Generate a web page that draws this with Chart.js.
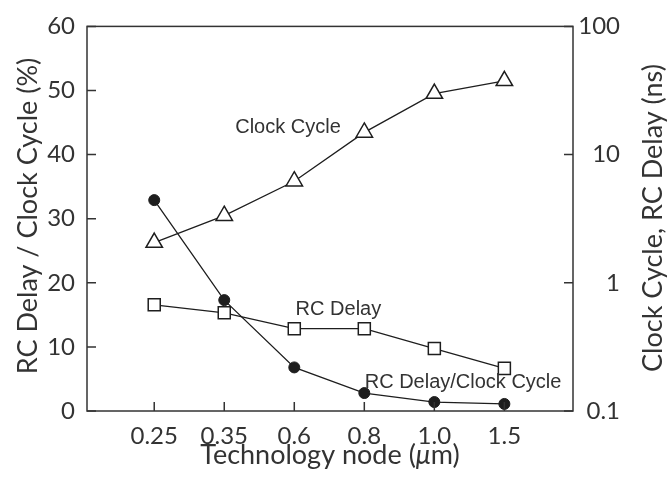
<!DOCTYPE html>
<html>
<head>
<meta charset="utf-8">
<script src="https://cdn.jsdelivr.net/npm/chart.js@4"></script>
<style>
  html, body { margin: 0; padding: 0; background: #fff; }
  #wrap { width: 668px; height: 480px; }
</style>
</head>
<body>
<div id="wrap"><canvas id="c"></canvas></div>
<script>
// technology nodes (um) along the bottom
var nodes = ['0.25', '0.35', '0.6', '0.8', '1.0', '1.5'];
// RC delay as share of the clock cycle, % (left axis)
var ratioPct = [32.9, 17.3, 6.8, 2.8, 1.4, 1.1];
// clock cycle and RC delay, ns (right log axis)
var clockCycle = [2.06, 3.34, 6.2, 14.9, 29.9, 37.6];
var rcDelay = [0.673, 0.583, 0.439, 0.439, 0.307, 0.215];
var leftTicks = [0, 10, 20, 30, 40, 50, 60];
var rightTicks = [0.1, 1, 10, 100];

var INK = '#1e1e1e';
var TEXT = '#333333';
var tickFont = { family: 'Lato', size: 24 };
var TITLE_FONT = '27px Lato, sans-serif';

function pts(arr) {
  return arr.map(function (v, i) { return { x: i, y: v }; });
}

// draws text pieces (some italic) centred on 0,0 along the baseline
function drawParts(ctx, parts) {
  var total = 0;
  parts.forEach(function (p) {
    ctx.font = (p.italic ? 'italic ' : '') + TITLE_FONT;
    p.w = ctx.measureText(p.text).width;
    total += p.w;
  });
  var x = -total / 2;
  ctx.textAlign = 'left';
  parts.forEach(function (p) {
    ctx.font = (p.italic ? 'italic ' : '') + TITLE_FONT;
    ctx.fillText(p.text, x, 0);
    x += p.w;
  });
}

// box around the plot, inward tick marks, curve labels and axis titles
var frame = {
  id: 'frame',
  afterDraw: function (chart) {
    var ctx = chart.ctx, a = chart.chartArea, s = chart.scales;
    ctx.save();
    ctx.strokeStyle = '#333';
    ctx.lineWidth = 1.5;
    ctx.strokeRect(a.left, a.top, a.right - a.left, a.bottom - a.top);
    ctx.beginPath();
    s.x.ticks.forEach(function (t) {
      var px = s.x.getPixelForValue(t.value);
      ctx.moveTo(px, a.bottom); ctx.lineTo(px, a.bottom - 9);
    });
    s.y.ticks.forEach(function (t) {
      var py = s.y.getPixelForValue(t.value);
      ctx.moveTo(a.left, py); ctx.lineTo(a.left + 9, py);
    });
    s.y1.ticks.forEach(function (t) {
      var py = s.y1.getPixelForValue(t.value);
      ctx.moveTo(a.right, py); ctx.lineTo(a.right - 9, py);
    });
    ctx.stroke();

    // curve names, placed in data units
    var notes = [
      { text: 'Clock Cycle', x: 1.91, y: 44.2 },
      { text: 'RC Delay', x: 2.63, y: 15.9 },
      { text: 'RC Delay/Clock Cycle', x: 4.41, y: 4.5 }
    ];
    ctx.fillStyle = TEXT;
    ctx.font = '20px "Liberation Sans", Arial, sans-serif';
    ctx.textAlign = 'center';
    ctx.textBaseline = 'middle';
    notes.forEach(function (n) {
      ctx.fillText(n.text, s.x.getPixelForValue(n.x), s.y.getPixelForValue(n.y));
    });

    // axis titles
    ctx.textBaseline = 'alphabetic';
    ctx.save();
    ctx.translate(330, 464);
    drawParts(ctx, [{ text: 'Technology node (' }, { text: '\u03bc', italic: true }, { text: 'm)' }]);
    ctx.restore();

    ctx.save();
    ctx.translate(37, 216);
    ctx.rotate(-Math.PI / 2);
    drawParts(ctx, [{ text: 'RC Delay / Clock Cycle (%)' }]);
    ctx.restore();

    ctx.save();
    ctx.translate(662, 218);
    ctx.rotate(-Math.PI / 2);
    drawParts(ctx, [{ text: 'Clock Cycle, RC Delay (ns)' }]);
    ctx.restore();
    ctx.restore();
  }
};

var ctx = document.getElementById('c');
var config = {
  type: 'line',
  data: {
    datasets: [{
      label: 'Clock Cycle',
      data: pts(clockCycle),
      yAxisID: 'y1',
      borderColor: INK,
      borderWidth: 1.3,
      pointStyle: 'triangle',
      pointRadius: 9.5,
      pointBorderWidth: 1.5,
      pointBorderColor: INK,
      pointBackgroundColor: '#fff'
    }, {
      label: 'RC Delay',
      data: pts(rcDelay),
      yAxisID: 'y1',
      borderColor: INK,
      borderWidth: 1.3,
      pointStyle: 'rect',
      pointRadius: 8.5,
      pointBorderWidth: 1.5,
      pointBorderColor: INK,
      pointBackgroundColor: '#fff'
    }, {
      label: 'RC Delay/Clock Cycle',
      data: pts(ratioPct),
      yAxisID: 'y',
      borderColor: INK,
      borderWidth: 1.3,
      pointStyle: 'circle',
      pointRadius: 5.5,
      pointBorderWidth: 1,
      pointBorderColor: INK,
      pointBackgroundColor: INK
    }]
  },
  options: {
    responsive: true,
    maintainAspectRatio: false,
    animation: false,
    layout: { padding: { top: 23, left: 0, right: 48, bottom: 0 } },
    plugins: { legend: { display: false }, tooltip: { enabled: false } },
    scales: {
      x: {
        type: 'linear',
        min: -0.96,
        max: 5.98,
        grid: { display: false, drawTicks: false },
        border: { display: false },
        afterBuildTicks: function (scale) {
          scale.ticks = nodes.map(function (_, i) { return { value: i }; });
        },
        afterFit: function (scale) { scale.height = 69; },
        ticks: {
          color: TEXT,
          font: tickFont,
          padding: 11,
          maxRotation: 0,
          callback: function (v) { return nodes[v]; }
        }
      },
      y: {
        type: 'linear',
        position: 'left',
        min: 0,
        max: 60,
        grid: { display: false, drawTicks: false },
        border: { display: false },
        afterBuildTicks: function (scale) {
          scale.ticks = leftTicks.map(function (v) { return { value: v }; });
        },
        afterFit: function (scale) { scale.width = 87; },
        ticks: { color: TEXT, font: tickFont, padding: 12 }
      },
      y1: {
        type: 'logarithmic',
        position: 'right',
        min: 0.1,
        max: 100,
        grid: { display: false, drawTicks: false },
        border: { display: false },
        afterBuildTicks: function (scale) {
          scale.ticks = rightTicks.map(function (v) { return { value: v }; });
        },
        afterFit: function (scale) { scale.width = 47; },
        ticks: {
          color: TEXT,
          font: tickFont,
          crossAlign: 'far',
          callback: function (v) { return String(v); }
        }
      }
    }
  },
  plugins: [frame]
};

var chart = new Chart(ctx, config);
</script>
</body>
</html>
